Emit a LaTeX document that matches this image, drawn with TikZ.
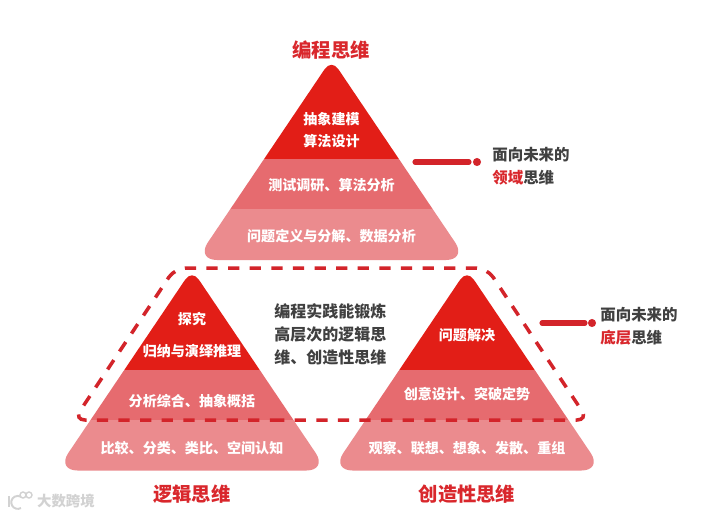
\documentclass[tikz,border=0pt]{standalone}
\usepackage{fontspec}
\usepackage{tikz}
\setmainfont{Noto Sans CJK SC}

\definecolor{topred}{HTML}{E21E17}
\definecolor{midred}{HTML}{E66B6F}
\definecolor{lowred}{HTML}{EB8B8E}
\definecolor{linered}{HTML}{D3242A}
\definecolor{darktext}{HTML}{404040}
\definecolor{marktext}{HTML}{D9272C}
\definecolor{wmgray}{HTML}{D2D2D2}

\tikzset{
  layertext/.style={text=white,font=\fontsize{8}{10}\selectfont\bfseries},
  headtext/.style={text=marktext,font=\fontsize{11}{13}\selectfont\bfseries},
  sidetext/.style={text=darktext,anchor=west,inner sep=0pt,font=\fontsize{8.8}{11}\selectfont\bfseries},
  connector/.style={linered,line width=2.9pt,line cap=round},
  enddot/.style={circle,fill=linered,inner sep=0pt,minimum size=4.6pt},
  zoneline/.style={linered,line width=2pt,dash pattern=on 6.4pt off 5.9pt,rounded corners=0.22cm},
  logoline/.style={wmgray,line width=1.1pt},
}

\begin{document}
\begin{tikzpicture}[x=0.02cm,y=-0.02cm]
  \useasboundingbox (0,0) rectangle (718,515);
  \fill[white] (0,0) rectangle (718,515);

  % three pyramids
  \foreach \cx/\cy in {331.5/-1,192/209.5,467/209.5} {
    \begin{scope}[shift={(\cx,\cy)}]
      \clip[rounded corners=0.24cm] (0,60) [rounded corners=0.42cm] -- (135.5,261) -- (-135.5,261) [rounded corners=0.24cm] -- cycle;
      \fill[topred] (-140,55) rectangle (140,160);
      \fill[midred] (-140,160) rectangle (140,210);
      \fill[lowred] (-140,210) rectangle (140,265);
    \end{scope}
  }

  % top pyramid
  \node[headtext] (headA) at (331,50) {编程思维};
  \node[layertext] (topA1) at (331.5,119) {抽象建模};
  \node[layertext] (topA2) at (331.5,141) {算法设计};
  \node[layertext] (midA) at (331.5,185) {测试调研、算法分析};
  \node[layertext] (lowA) at (331.5,236) {问题定义与分解、数据分析};

  % left pyramid
  \node[layertext] (topB1) at (192,319) {探究};
  \node[layertext] (topB2) at (192,351) {归纳与演绎推理};
  \node[layertext] (midB) at (192,401) {分析综合、抽象概括};
  \node[layertext] (lowB) at (192,448) {比较、分类、类比、空间认知};
  \node[headtext] (headB) at (192,494) {逻辑思维};

  % right pyramid
  \node[layertext] (topC) at (467,335) {问题解决};
  \node[layertext] (midC) at (467,394) {创意设计、突破定势};
  \node[layertext] (lowC) at (467,448) {观察、联想、想象、发散、重组};
  \node[headtext] (headC) at (467,494) {创造性思维};

  % dashed zone
  \draw[zoneline] (292,420) -- (74,420) -- (175,268) -- (487,268) -- (588,420) -- cycle;

  % middle text
  \node[sidetext,font=\fontsize{9.1}{13.1}\selectfont\bfseries,align=left] (midtext) at (274,334)
    {编程实践能锻炼\\高层次的逻辑思\\维、创造性思维};

  % side labels
  \coordinate (startA) at (415,162);
  \coordinate (endA) at (469,162);
  \node[enddot] (dotA) at (477,162) {};
  \draw[connector] (startA) -- (endA);
  \node[sidetext] (sideA1) at (492,155) {面向未来的};
  \node[sidetext] (sideA2) at (492,178) {\textcolor{marktext}{领域}思维};

  \coordinate (startB) at (542,323);
  \coordinate (endB) at (585,323);
  \node[enddot] (dotB) at (592,323) {};
  \draw[connector] (startB) -- (endB);
  \node[sidetext] (sideB1) at (600,315) {面向未来的};
  \node[sidetext] (sideB2) at (600,338) {\textcolor{marktext}{底层}思维};

  % watermark
  \draw[logoline] (9,496) -- (9,507);
  \draw[logoline] (21,508) arc (60:300:6.5);
  \draw[logoline,line width=0.8pt] (23,495) circle (3);
  \draw[logoline,line width=0.8pt] (29,495) circle (3);
  \node[text=wmgray,font=\fontsize{8.2}{10}\selectfont\bfseries] (mark) at (66,501) {大数跨境};
\end{tikzpicture}
\end{document}
